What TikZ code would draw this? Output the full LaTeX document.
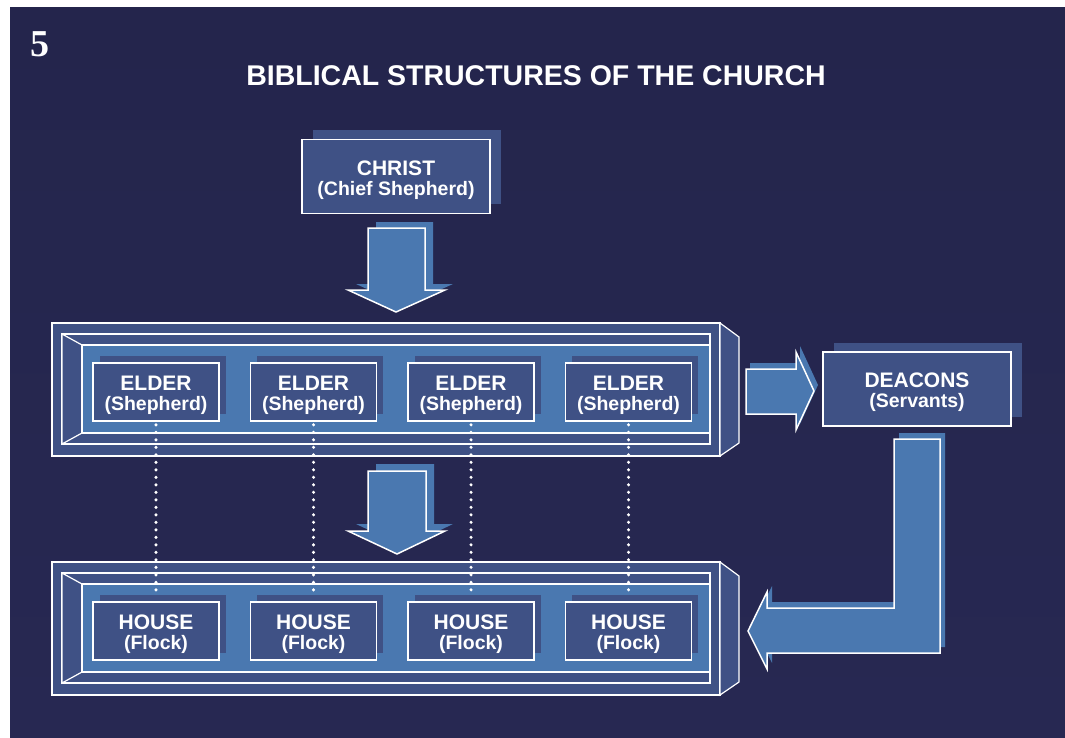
\documentclass[tikz,border=0pt]{standalone}
\usepackage{fontspec}
\setmainfont{Liberation Serif}
\setsansfont{Liberation Sans}
\usetikzlibrary{shadows}

\definecolor{bgtop}{RGB}{36,37,76}
\definecolor{bgnavy}{RGB}{45,46,92}
\definecolor{bgbottom}{RGB}{39,40,82}
\definecolor{slate}{RGB}{63,81,133}
\definecolor{steel}{RGB}{74,120,176}

\newcommand\subtitlefont{\fontsize{19.5}{20}\selectfont}

\tikzset{
  rolebox/.style={draw=white, line width=1.6pt, fill=slate, text=white, align=center,
    inner sep=0pt, text depth=0pt, text height=37.5pt,
    font=\sffamily\bfseries\fontsize{21}{20}\selectfont},
  bigbox/.style={rolebox, minimum width=188pt, minimum height=74pt,
    general shadow={shadow xshift=11pt, shadow yshift=9.5pt, fill=slate}},
  smallbox/.style={rolebox, minimum width=126pt, minimum height=58pt,
    general shadow={shadow xshift=6.5pt, shadow yshift=7.5pt, fill=slate}},
  blockarrow/.style={draw=white, line width=1.5pt, fill=steel, line join=miter},
  frameline/.style={draw=white, line width=1.2pt, fill=slate},
  dots/.style={white, line width=3.4pt, line cap=round, dash pattern=on 0pt off 7.5pt}
}

\begin{document}
\begin{tikzpicture}[x=1pt, y=-1pt]
\useasboundingbox (0,0) rectangle (1065,738);
\fill[white] (0,0) rectangle (1065,738);
\shade[top color=bgtop, middle color=bgnavy, bottom color=bgbottom] (10,8) rectangle (1065,738);

% Number and title
\node[text=white, font=\bfseries\fontsize{38}{38}\selectfont] (slidenum) at (40,44) {5};
\node[text=white, font=\sffamily\bfseries\fontsize{28.5}{30}\selectfont] (title) at (536,76)
  {BIBLICAL STRUCTURES OF THE CHURCH};

% Frames for the elders and the houses
\foreach \fy in {0,239} {
  \begin{scope}[shift={(0,\fy)}]
    \draw[frameline] (52,323) rectangle (720,456);
    \draw[frameline] (720,323) -- (739,337) -- (739,443) -- (720,456) -- cycle;
    \draw[frameline] (62,334) rectangle (710,444);
    \draw[frameline] (62,334) -- (82,345) -- (82,433) -- (62,444) -- cycle;
    \draw[frameline, fill=steel] (82,345) rectangle (710,433);
  \end{scope}
}

% Boxes
\node[bigbox] (christ) at (396,176.5) {CHRIST\\{\subtitlefont(Chief Shepherd)}};
\node[bigbox, general shadow={shadow xshift=10.5pt, shadow yshift=9pt, fill=slate}]
  (deacons) at (917,389) {DEACONS\\{\subtitlefont(Servants)}};
\foreach \i/\x in {1/156,2/313.5,3/471,4/628.5} {
  \node[smallbox] (elder\i) at (\x,392) {ELDER\\{\subtitlefont(Shepherd)}};
  \node[smallbox] (house\i) at (\x,631) {HOUSE\\{\subtitlefont(Flock)}};
}

% Dotted links elder to house
\foreach \i in {1,...,4} {
  \draw[dots] ([yshift=-3pt]elder\i.south) -- ([yshift=8pt]house\i.north);
}

% Christ to elders
\fill[steel, shift={(8,-6)}] (368,228) -- (425,228) -- (425,290) -- (445,290) -- (396,312) -- (348,290) -- (368,290) -- cycle;
\draw[blockarrow] (368,228) -- (425,228) -- (425,290) -- (445,290) -- (396,312) -- (348,290) -- (368,290) -- cycle;

% Elders to houses
\fill[steel, shift={(8,-7)}] (368,471) -- (426,471) -- (426,531) -- (445,531) -- (397,554) -- (348,531) -- (368,531) -- cycle;
\draw[blockarrow] (368,471) -- (426,471) -- (426,531) -- (445,531) -- (397,554) -- (348,531) -- (368,531) -- cycle;

% Elders to deacons
\fill[steel, shift={(4,-6)}] (746,369) -- (796,369) -- (796,352) -- (814,391) -- (796,430) -- (796,414) -- (746,414) -- cycle;
\draw[blockarrow] (746,369) -- (796,369) -- (796,352) -- (814,391) -- (796,430) -- (796,414) -- (746,414) -- cycle;

% Deacons back to houses
\fill[steel, shift={(5,-6)}] (894,439) -- (940,439) -- (940,653) -- (767,653) -- (767,669) -- (748,631) -- (767,592) -- (767,608) -- (894,608) -- cycle;
\draw[blockarrow] (894,439) -- (940,439) -- (940,653) -- (767,653) -- (767,669) -- (748,631) -- (767,592) -- (767,608) -- (894,608) -- cycle;
\end{tikzpicture}
\end{document}
